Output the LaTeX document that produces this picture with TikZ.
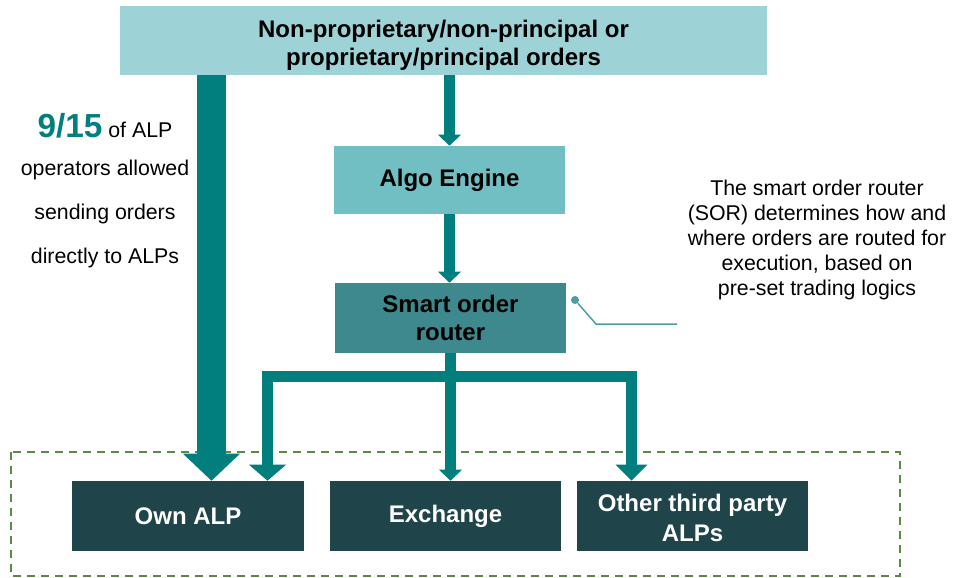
\documentclass[tikz,border=0pt]{standalone}
\usepackage{fontspec}
\setmainfont{Liberation Sans}
\usetikzlibrary{arrows.meta}
\usepackage{xcolor}

\definecolor{orderlight}{HTML}{9DD3D6}
\definecolor{algoteal}{HTML}{71BEC3}
\definecolor{sorteal}{HTML}{3D898D}
\definecolor{alpdark}{HTML}{1F4449}
\definecolor{flowteal}{HTML}{007F7E}
\definecolor{framegreen}{HTML}{5B8A45}
\definecolor{notelink}{HTML}{4E9DA3}
\newdimen\px
\px=0.75pt

\begin{document}
\begin{tikzpicture}[x=0.75pt, y=-0.75pt,
	block/.style={rectangle, inner sep=0pt, align=center, font=\fontsize{18}{21}\selectfont\bfseries, minimum width=231\px, minimum height=69\px},
	flow/.style={draw=flowteal, line width=11\px},
	]
	% Parameters
	\def\smallhead{Triangle[width=17.25pt, length=8.25pt, line width=0pt]}
	\def\midhead{Triangle[width=27.75pt, length=12pt, line width=0pt]}
	\def\bighead{Triangle[width=42.75pt, length=20.25pt, line width=0pt]}
	\def\bottomy{516}
	
	\useasboundingbox (0,0) rectangle (954,578);
	
	%ALP frame
	\draw[framegreen, line width=2\px, dash pattern=on 6pt off 4.5pt] (11,452) rectangle (900,576);
	
	%blocks
	\node[block, fill=orderlight, minimum width=647\px] (orders) at (443.5,40.5) {\rule{0pt}{20.5pt}Non-proprietary/non-principal or\\proprietary/principal orders};
	\node[block, fill=algoteal, minimum height=68\px] (algo) at (449.5,180) {Algo Engine};
	\node[block, fill=sorteal, minimum height=70\px] (sor) at (450.5,318) {Smart order\\router};
	\node[block, fill=alpdark, text=white, minimum width=232\px, minimum height=70\px] (own) at (188,\bottomy) {Own ALP};
	\node[block, fill=alpdark, text=white, minimum height=70\px] (exch) at (445.5,\bottomy) {Exchange};
	\node[block, fill=alpdark, text=white, minimum height=70\px, font=\fontsize{18}{22.5}\selectfont\bfseries] (other) at (692.5,\bottomy) {\rule{0pt}{16pt}Other third party\\ALPs};
	
	%direct orders
	\coordinate (direct) at (211.5,75);
	\draw[flowteal, line width=29\px, -{\bighead}] (direct) -- (direct |- own.north);
	
	%algo route
	\draw[flow, -{\smallhead}] (orders.south -| algo) -- (algo.north);
	\draw[flow, -{\smallhead}] (algo) ++(0,34) -- (sor.north -| algo);
	
	%router split
	\coordinate (splitl) at (267.5,376.5);
	\coordinate (splitr) at (631.5,376.5);
	\draw[flow, {\midhead}-{Triangle[width=24pt, length=12pt, line width=0pt]}] (splitl |- own.north) -- (splitl) -- (splitr) -- (splitr |- other.north);
	\draw[flow, -{\smallhead}] (sor.south) -- (sor.south |- exch.north);
	
	%notes
	\node[align=center, font=\fontsize{16}{33}\selectfont] (share) at (105,191) {{\fontsize{25}{30}\selectfont\bfseries\color{flowteal}9/15} of ALP\\[-4.5pt]operators allowed\\sending orders\\directly to ALPs};
	\node[align=center, font=\fontsize{16}{18.75}\selectfont] (sornote) at (817,240) {The smart order router\\(SOR) determines how and\\where orders are routed for\\execution, based on\\pre-set trading logics};
	\node[circle, fill=notelink, inner sep=0pt, minimum size=8\px] (dot) at (575,300) {};
	\coordinate (notebend) at (596,324);
	\coordinate (noteend) at (677,324);
	\draw[notelink, line width=1.5\px] (dot) -- (notebend) -- (noteend);
	
\end{tikzpicture}
\end{document}
